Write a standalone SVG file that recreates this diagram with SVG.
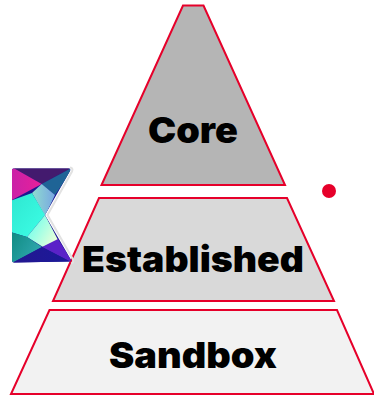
<svg xmlns="http://www.w3.org/2000/svg" width="374" height="395" viewBox="0 0 374 395">
<style>
.t{stroke:#e6002a;stroke-width:2;stroke-linejoin:miter}
.l{font-family:Inter,"Liberation Sans",sans-serif;font-weight:900;font-size:35.5px;fill:#000;text-anchor:start}
</style>
<defs>
<clipPath id="k"><path d="M13.5,168.5H68.5Q71,168.5 70,171L45,215L70.5,259Q71.5,261.5 69,261.5L14,262.5Q12,262.5 12,260V170.5Q12,168.5 13.5,168.5Z"/></clipPath>
<linearGradient id="g1" x1="0" y1="0" x2="1" y2="1"><stop offset="0" stop-color="#2ee6d0"/><stop offset="1" stop-color="#3dffe6"/></linearGradient>
<linearGradient id="g2" x1="0" y1="0.5" x2="1" y2="0.5"><stop offset="0" stop-color="#8fdccf"/><stop offset="1" stop-color="#78a6e2"/></linearGradient>
<linearGradient id="g3" x1="0" y1="0.2" x2="1" y2="0.8"><stop offset="0" stop-color="#66ffee"/><stop offset="1" stop-color="#f0ffd8"/></linearGradient>
<linearGradient id="g4" x1="0" y1="0" x2="1" y2="0.6"><stop offset="0" stop-color="#0e8a80"/><stop offset="1" stop-color="#30a8b0"/></linearGradient>
<linearGradient id="g5" x1="0" y1="0" x2="1" y2="0"><stop offset="0" stop-color="#241690"/><stop offset="1" stop-color="#1a1a9a"/></linearGradient>
<linearGradient id="g6" x1="0" y1="0" x2="1" y2="0"><stop offset="0" stop-color="#c822a8"/><stop offset="1" stop-color="#e8209a"/></linearGradient>
</defs>
<rect width="374" height="395" fill="#fff"/>
<g id="core"><polygon class="t" fill="#b5b5b5" points="183,5.5 203.5,5.5 285,185 101.5,185"/><text class="l" x="148" y="143" textLength="90" lengthAdjust="spacingAndGlyphs">Core</text></g>
<g id="established"><polygon class="t" fill="#d9d9d9" points="99,198 287,198 334,301 53,301"/><text class="l" x="82" y="272" textLength="222" lengthAdjust="spacingAndGlyphs">Established</text></g>
<g id="sandbox"><polygon class="t" fill="#f2f2f2" points="49.5,310 337,310 374,394 11,394"/><text class="l" x="109" y="368" textLength="168" lengthAdjust="spacingAndGlyphs">Sandbox</text></g>
<g id="dot"><circle cx="329" cy="191" r="7" fill="#e6002a"/></g>
<g id="logo">
<path d="M70,167.5Q73.5,168 72,171.5L47.5,215L73,259.5Q74,263 71,263.5" fill="none" stroke="#e2e2e2" stroke-width="2"/>
<g clip-path="url(#k)">
<rect x="10" y="166" width="64" height="100" fill="#1c1690"/>
<polygon points="10,166 75,166 41.7,184" fill="#431a6e"/>
<polygon points="10,166 41.7,184 10,201" fill="url(#g6)"/>
<polygon points="41.7,184 75,166 55,195" fill="#1f6496"/>
<polygon points="41.7,184 55,195 45,216 32,193" fill="url(#g2)"/>
<polygon points="10,201 32,193 45,215 27,237 10,232" fill="url(#g1)"/>
<polygon points="45,215 58,240 43,247 27,237" fill="url(#g3)"/>
<polygon points="10,232 27,237 42,247 10,264" fill="url(#g4)"/>
<polygon points="42,247 58,239 73,263" fill="#5a22c8"/>
<polygon points="10,264 42,247 73,263" fill="url(#g5)"/>
</g>
</g>
</svg>
